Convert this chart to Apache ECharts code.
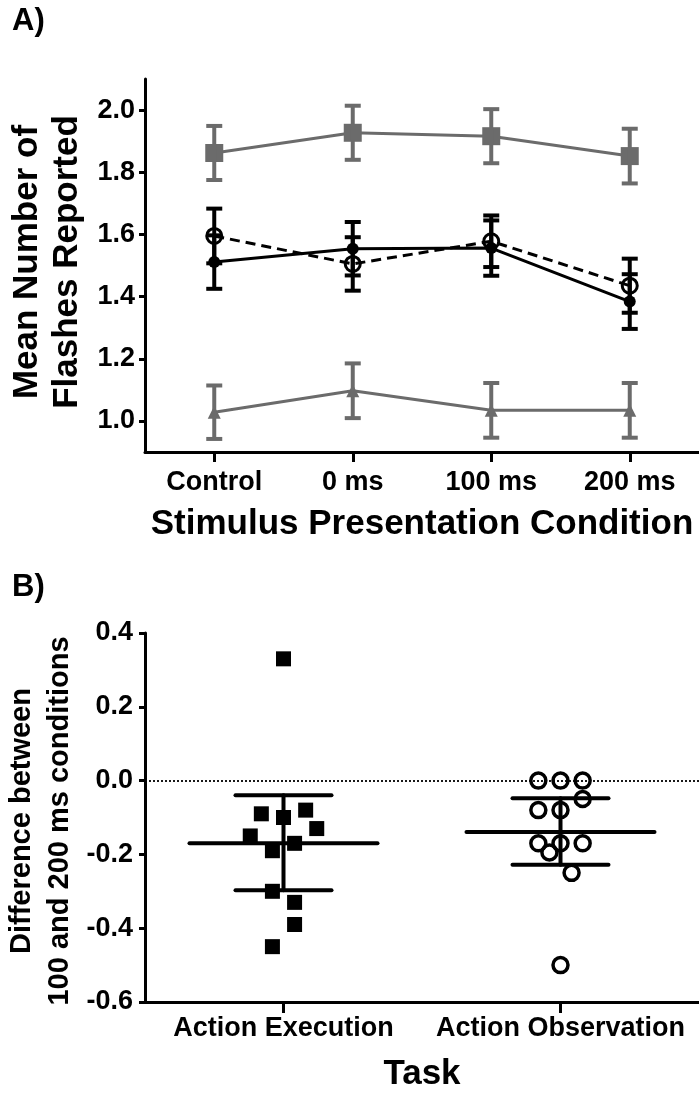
<!DOCTYPE html>
<html>
<head>
<meta charset="utf-8">
<title>Flashes reported</title>
<script src="https://cdn.jsdelivr.net/npm/echarts@6.0.0/dist/echarts.min.js"></script>
<style>
html, body { margin: 0; padding: 0; background: #fff; }
#main { width: 699px; height: 1093px; }
</style>
</head>
<body>
<div id="main"></div>
<script>
// panel A data
var conditions = ['Control', '0 ms', '100 ms', '200 ms'];
var squareMean = [1.862, 1.927, 1.916, 1.852];
var squareErr = [0.087, 0.087, 0.087, 0.088];
var triMean = [1.028, 1.097, 1.034, 1.034];
var triErr = [0.086, 0.088, 0.088, 0.088];
var solidMean = [1.511, 1.554, 1.556, 1.384];
var solidErr = [0.086, 0.086, 0.089, 0.088];
var dashedMean = [1.595, 1.505, 1.578, 1.435];
var dashedErr = [0.088, 0.086, 0.083, 0.087];
var yTicksA = [1.0, 1.2, 1.4, 1.6, 1.8, 2.0];

// panel B data
var tasks = ['Action Execution', 'Action Observation'];
var execVals = [0.33, -0.09, -0.10, -0.08, -0.13, -0.15, -0.17, -0.19, -0.30, -0.33, -0.39, -0.45];
var execSlot = [0, -2, 0, 2, 3, -3, 1, -1, -1, 1, 1, -1];
var obsVals = [0, 0, 0, -0.05, -0.08, -0.08, -0.17, -0.17, -0.17, -0.195, -0.25, -0.50];
var obsSlot = [-2, 0, 2, 2, -2, 0, -2, 0, 2, -1, 1, 0];
var taskMean = [-0.170, -0.139];
var taskUpper = [-0.040, -0.048];
var taskLower = [-0.297, -0.228];

var FONT = "'Liberation Sans', Arial, sans-serif";
var GRAY = '#6b6b6b';
var SLOT = 0.04; // jitter step, in category units

var myChart = echarts.init(document.getElementById('main'));

function pairs(arr) {
    return arr.map(function (v, i) { return [i, v]; });
}

// vertical error bars with caps
function errorBars(means, errs, color) {
    return {
        type: 'custom',
        xAxisIndex: 0,
        yAxisIndex: 0,
        z: 4,
        silent: true,
        data: means.map(function (m, i) { return [i, m - errs[i], m + errs[i]]; }),
        renderItem: function (params, api) {
            var lo = api.coord([api.value(0), api.value(1)]);
            var hi = api.coord([api.value(0), api.value(2)]);
            var w = 8;
            var st = { stroke: color, lineWidth: 4 };
            return {
                type: 'group',
                children: [
                    { type: 'line', shape: { x1: lo[0], y1: lo[1], x2: hi[0], y2: hi[1] }, style: st },
                    { type: 'line', shape: { x1: lo[0] - w, y1: lo[1], x2: lo[0] + w, y2: lo[1] }, style: st },
                    { type: 'line', shape: { x1: hi[0] - w, y1: hi[1], x2: hi[0] + w, y2: hi[1] }, style: st }
                ]
            };
        }
    };
}

var tickLabel = { fontFamily: FONT, fontSize: 27, fontWeight: 'bold', color: '#000' };
var axisLine3 = { onZero: false, lineStyle: { color: '#000', width: 3 } };

var option = {
    animation: false,
    backgroundColor: '#fff',
    textStyle: { fontFamily: FONT },
    grid: [
        { left: 145, top: 79, width: 558, height: 373 },
        { left: 145, top: 633, width: 558, height: 372 }
    ],
    xAxis: [
        {
            gridIndex: 0,
            type: 'value',
            min: -0.5,
            max: 3.5,
            axisLine: axisLine3,
            axisTick: { customValues: [0, 1, 2, 3], length: 10, lineStyle: { width: 3, color: '#000' } },
            axisLabel: Object.assign({}, tickLabel, {
                customValues: [0, 1, 2, 3],
                margin: 17,
                formatter: function (v) { return conditions[Math.round(v)]; }
            }),
            splitLine: { show: false },
            name: 'Stimulus Presentation Condition',
            nameLocation: 'middle',
            nameGap: 55,
            nameTextStyle: { fontFamily: FONT, fontSize: 35, fontWeight: 'bold', color: '#000' }
        },
        {
            gridIndex: 1,
            type: 'value',
            min: -0.5,
            max: 1.5,
            axisLine: axisLine3,
            axisTick: { customValues: [0, 1], length: 11, lineStyle: { width: 3, color: '#000' } },
            axisLabel: Object.assign({}, tickLabel, {
                customValues: [0, 1],
                margin: 13,
                formatter: function (v) { return tasks[Math.round(v)]; }
            }),
            splitLine: { show: false },
            name: 'Task',
            nameLocation: 'middle',
            nameGap: 55,
            nameTextStyle: { fontFamily: FONT, fontSize: 35, fontWeight: 'bold', color: '#000' }
        }
    ],
    yAxis: [
        {
            gridIndex: 0,
            type: 'value',
            min: 0.9,
            max: 2.1,
            axisLine: axisLine3,
            axisTick: { customValues: yTicksA, length: 6, lineStyle: { width: 3, color: '#000' } },
            axisLabel: Object.assign({}, tickLabel, {
                customValues: yTicksA,
                margin: 10,
                formatter: function (v) { return v.toFixed(1); }
            }),
            splitLine: { show: false }
        },
        {
            gridIndex: 1,
            type: 'value',
            min: -0.6,
            max: 0.4,
            interval: 0.2,
            axisLine: axisLine3,
            axisTick: { length: 6, lineStyle: { width: 3, color: '#000' } },
            axisLabel: Object.assign({}, tickLabel, {
                margin: 12,
                formatter: function (v) { return v.toFixed(1); }
            }),
            splitLine: { show: false }
        }
    ],
    graphic: [
        { type: 'text', left: 12, top: 6, style: { text: 'A)', fontFamily: FONT, fontSize: 31, fontWeight: 'bold', fill: '#000' } },
        { type: 'text', left: 12, top: 572, style: { text: 'B)', fontFamily: FONT, fontSize: 31, fontWeight: 'bold', fill: '#000' } },
        {
            type: 'text', x: 47, y: 262, rotation: Math.PI / 2,
            style: {
                text: 'Mean Number of\nFlashes Reported', fontFamily: FONT, fontSize: 35, fontWeight: 'bold',
                lineHeight: 40, fill: '#000', align: 'center', verticalAlign: 'middle'
            }
        },
        {
            type: 'text', x: 41, y: 821, rotation: Math.PI / 2,
            style: {
                text: 'Difference between\n100 and 200 ms conditions', fontFamily: FONT, fontSize: 29, fontWeight: 'bold',
                lineHeight: 38, fill: '#000', align: 'center', verticalAlign: 'middle'
            }
        }
    ],
    series: [
        // panel A
        {
            type: 'line', xAxisIndex: 0, yAxisIndex: 0, data: pairs(squareMean),
            symbol: 'rect', symbolSize: 18,
            lineStyle: { color: GRAY, width: 3 }, itemStyle: { color: GRAY }
        },
        errorBars(squareMean, squareErr, GRAY),
        {
            type: 'line', xAxisIndex: 0, yAxisIndex: 0, data: pairs(triMean),
            symbol: 'triangle', symbolSize: 13,
            lineStyle: { color: GRAY, width: 3 }, itemStyle: { color: GRAY }
        },
        errorBars(triMean, triErr, GRAY),
        {
            type: 'line', xAxisIndex: 0, yAxisIndex: 0, data: pairs(solidMean),
            symbol: 'circle', symbolSize: 12,
            lineStyle: { color: '#000', width: 3 }, itemStyle: { color: '#000' }, z: 5
        },
        errorBars(solidMean, solidErr, '#000'),
        {
            type: 'line', xAxisIndex: 0, yAxisIndex: 0, data: pairs(dashedMean),
            symbol: 'circle', symbolSize: 15,
            lineStyle: { color: '#000', width: 3, type: [10, 6] },
            itemStyle: { color: 'rgba(0,0,0,0)', borderColor: '#000', borderWidth: 3 }, z: 5
        },
        errorBars(dashedMean, dashedErr, '#000'),

        // panel B
        {
            type: 'scatter', xAxisIndex: 1, yAxisIndex: 1,
            data: execVals.map(function (v, i) { return [0 + execSlot[i] * SLOT, v]; }),
            symbol: 'rect', symbolSize: 15, itemStyle: { color: '#000', opacity: 1 },
            markLine: {
                silent: true, symbol: 'none', label: { show: false },
                lineStyle: { color: '#000', width: 1.8, type: [2, 2] },
                data: [{ yAxis: 0 }]
            }
        },
        {
            type: 'scatter', xAxisIndex: 1, yAxisIndex: 1,
            data: obsVals.map(function (v, i) { return [1 + obsSlot[i] * SLOT, v]; }),
            symbol: 'circle', symbolSize: 15,
            itemStyle: { color: 'rgba(0,0,0,0)', borderColor: '#000', borderWidth: 3.5, opacity: 1 }
        },
        {
            type: 'custom', xAxisIndex: 1, yAxisIndex: 1, z: 4, silent: true,
            data: taskMean.map(function (m, i) { return [i, m, taskLower[i], taskUpper[i]]; }),
            renderItem: function (params, api) {
                var c = api.coord([api.value(0), api.value(1)]);
                var lo = api.coord([api.value(0), api.value(2)]);
                var hi = api.coord([api.value(0), api.value(3)]);
                var wm = 94, wc = 48;
                var st = { stroke: '#000', lineWidth: 4, lineCap: 'round' };
                return {
                    type: 'group',
                    children: [
                        { type: 'line', shape: { x1: c[0] - wm, y1: c[1], x2: c[0] + wm, y2: c[1] }, style: st },
                        { type: 'line', shape: { x1: lo[0], y1: lo[1], x2: hi[0], y2: hi[1] }, style: st },
                        { type: 'line', shape: { x1: lo[0] - wc, y1: lo[1], x2: lo[0] + wc, y2: lo[1] }, style: st },
                        { type: 'line', shape: { x1: hi[0] - wc, y1: hi[1], x2: hi[0] + wc, y2: hi[1] }, style: st }
                    ]
                };
            }
        }
    ]
};

myChart.setOption(option);
</script>
</body>
</html>
